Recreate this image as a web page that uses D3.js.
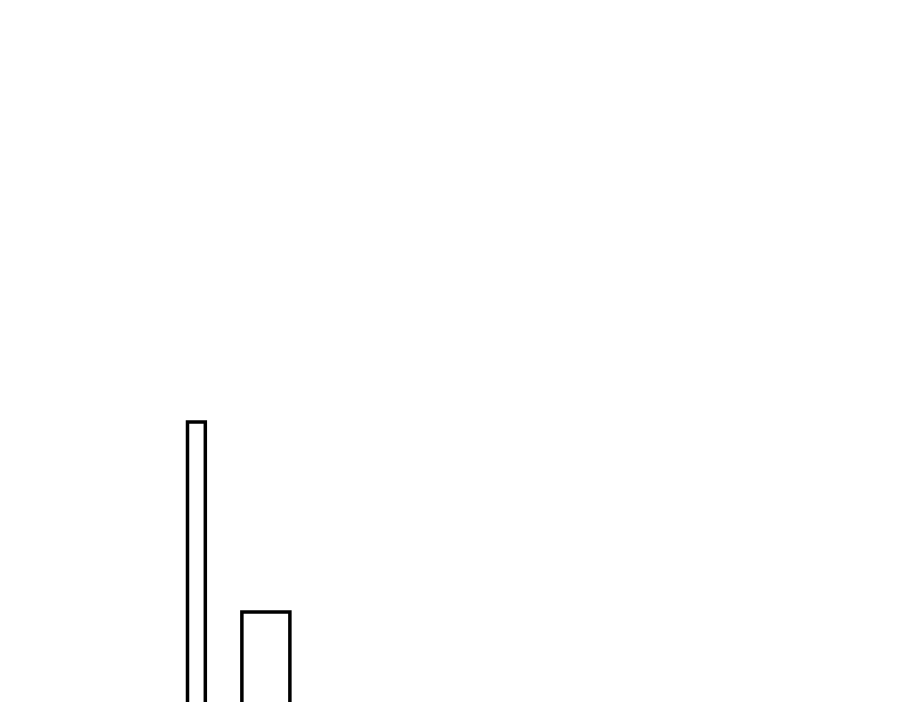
<!DOCTYPE html>
<html>
<head>
<meta charset="utf-8">
<script src="https://cdn.jsdelivr.net/npm/d3@7"></script>
<style>
  html, body { margin: 0; padding: 0; background: #fff; overflow: hidden; }
  svg { display: block; }
</style>
</head>
<body>
<svg id="chart"></svg>
<script>
// bin edges and counts (only the first two bins fall inside the picture)
const binStart = [10, 12.9];
const binEnd = [10.95, 15.46];
const counts = [82, 34.5];

const width = 900, height = 702;

const svgCanvas = d3.select("#chart")
    .attr("width", width)
    .attr("height", height);

//X scale, in bin units
const xScale = d3.scaleLinear()
    .domain([0, 48])
    .range([0, width]);

//Y scale, baseline sits below the visible area
const yScale = d3.scaleLinear()
    .domain([0, 100])
    .range([750, 350]);

const data = counts.map((c, i) => ({ x0: binStart[i], x1: binEnd[i], count: c }));

svgCanvas.selectAll("rect")
    .data(data)
    .enter().append("rect")
    .attr("x", d => xScale(d.x0))
    .attr("width", d => xScale(d.x1) - xScale(d.x0))
    .attr("y", d => yScale(d.count))
    .attr("height", d => yScale(0) - yScale(d.count))
    .style("fill", "#fff")
    .style("stroke", "#000")
    .style("stroke-width", 3.5);
</script>
</body>
</html>
